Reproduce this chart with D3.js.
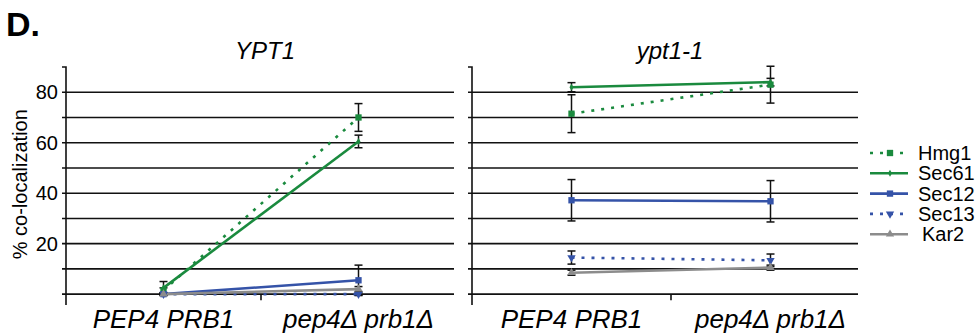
<!DOCTYPE html>
<html>
<head>
<meta charset="utf-8">
<script src="https://cdn.jsdelivr.net/npm/d3@7"></script>
<style>
  body { margin: 0; background: #fff; }
  svg { display: block; font-family: 'Liberation Sans', Arial, sans-serif; }
</style>
</head>
<body>
<svg id="chart" width="977" height="335"></svg>
<script>
// data
const categories = ['PEP4 PRB1', 'pep4\u0394 prb1\u0394'];
const panelTitles = ['YPT1', 'ypt1-1'];
const seriesNames = ['Hmg1', 'Sec61', 'Sec12', 'Sec13', 'Kar2'];

// YPT1 panel: one row per series, one value per category
const ypt1Values = [[1.5, 70], [2.5, 60.5], [0, 5.5], [0, 0], [0, 2]];
const ypt1Errors = [[1, 5.5], [2.5, 2.5], [0.5, 6], [0.3, 0.5], [0.5, 1]];

// ypt1-1 panel
const ypt11Values = [[71.5, 83], [82, 84], [37.2, 36.8], [14.5, 13.4], [8.5, 10.5]];
const ypt11Errors = [[7.5, 7.3], [1.8, 1.5], [8.2, 8.2], [2.6, 2.5], [1, 1]];

const gridValues = [0, 10, 20, 30, 40, 50, 60, 70, 80];
const yTickLabels = [20, 40, 60, 80];

const colors = ['#1a8a3e', '#1a8a3e', '#3553a8', '#3553a8', '#8c8c8c'];
const dashes = ['3,7', null, null, '3,7', null];
const symbols = [d3.symbolSquare, d3.symbolDiamond, d3.symbolSquare, d3.symbolTriangle, d3.symbolTriangle];
const symSizes = [40, 14, 40, 30, 30];
const symRotate = [0, 0, 0, 180, 0];

const svg = d3.select('#chart');

const y = d3.scaleLinear().domain([-4.3, 90]).range([305, 67]);

const panels = [
  { title: panelTitles[0], values: ypt1Values, errors: ypt1Errors, range: [66, 456], gridEnd: 454 },
  { title: panelTitles[1], values: ypt11Values, errors: ypt11Errors, range: [472, 870], gridEnd: 858 }
];

// panel letter
svg.append('text').attr('x', 6).attr('y', 36)
  .attr('font-size', 34).attr('font-weight', 'bold').text('D.');

// y axis label
svg.append('text')
  .attr('transform', `translate(27,${y(40) - 9}) rotate(-90)`)
  .attr('text-anchor', 'middle').attr('font-size', 20)
  .text('% co-localization');

panels.forEach((p, pi) => {
  const x = d3.scaleBand().domain(categories).range(p.range);
  const cx = d => x(d) + x.bandwidth() / 2;
  const g = svg.append('g');
  const x0 = p.range[0];

  // gridlines
  g.selectAll('line.grid').data(gridValues).enter().append('line')
    .attr('x1', x0 - 4).attr('x2', p.gridEnd)
    .attr('y1', d => y(d)).attr('y2', d => y(d))
    .attr('stroke', '#111').attr('stroke-width', 1.6);

  // y axis line with top cap
  g.append('path')
    .attr('d', `M${x0 - 4},${y(90)}H${x0}V${y.range()[0]}`)
    .attr('fill', 'none').attr('stroke', '#111').attr('stroke-width', 1.6);

  // tick between categories
  g.append('line')
    .attr('x1', x0 + x.bandwidth()).attr('x2', x0 + x.bandwidth())
    .attr('y1', y(0)).attr('y2', y(0) + 6)
    .attr('stroke', '#111').attr('stroke-width', 1.6);

  if (pi === 0) {
    g.selectAll('text.tick').data(yTickLabels).enter().append('text')
      .attr('x', x0 - 8).attr('y', d => y(d) + 7)
      .attr('text-anchor', 'end').attr('font-size', 20).text(d => d);
  }

  // title
  g.append('text').attr('x', (x0 + p.gridEnd) / 2 + 5).attr('y', 59)
    .attr('text-anchor', 'middle').attr('font-size', 24).attr('font-style', 'italic')
    .text(p.title);

  // category labels
  g.selectAll('text.cat').data(categories).enter().append('text')
    .attr('x', d => cx(d)).attr('y', 328)
    .attr('text-anchor', 'middle').attr('font-size', 26).attr('font-style', 'italic')
    .text(d => d);

  // error bars
  p.values.forEach((vals, si) => {
    vals.forEach((v, ci) => {
      const e = p.errors[si][ci];
      const xx = cx(categories[ci]);
      const eg = g.append('g').attr('stroke', '#111').attr('stroke-width', 1.5);
      eg.append('line').attr('x1', xx).attr('x2', xx).attr('y1', y(v - e)).attr('y2', y(v + e));
      [v - e, v + e].forEach(t => {
        eg.append('line').attr('x1', xx - 4).attr('x2', xx + 4).attr('y1', y(t)).attr('y2', y(t));
      });
    });
  });

  // lines
  const line = d3.line().x((d, i) => cx(categories[i])).y(d => y(d));
  p.values.forEach((vals, si) => {
    g.append('path').datum(vals).attr('d', line)
      .attr('fill', 'none').attr('stroke', colors[si]).attr('stroke-width', 2.6)
      .attr('stroke-dasharray', dashes[si]);
  });

  // markers
  p.values.forEach((vals, si) => {
    g.selectAll(null).data(vals).enter().append('path')
      .attr('d', d3.symbol().type(symbols[si]).size(symSizes[si]))
      .attr('transform', (d, i) => `translate(${cx(categories[i])},${y(d)}) rotate(${symRotate[si]})`)
      .attr('fill', colors[si]);
  });
});

// legend
const legend = svg.append('g').attr('transform', 'translate(870,153)');
seriesNames.forEach((name, si) => {
  const lg = legend.append('g').attr('transform', `translate(0,${si * 20.3})`);
  lg.append('line').attr('x1', 0).attr('x2', 38).attr('y1', 0).attr('y2', 0)
    .attr('stroke', colors[si]).attr('stroke-width', 2.6).attr('stroke-dasharray', dashes[si]);
  lg.append('path')
    .attr('d', d3.symbol().type(symbols[si]).size(symSizes[si])())
    .attr('transform', `translate(20,0) rotate(${symRotate[si]})`)
    .attr('fill', colors[si]);
  lg.append('text').attr('x', si === 4 ? 52 : 48).attr('y', 7)
    .attr('font-size', 20).text(name);
});
</script>
</body>
</html>
